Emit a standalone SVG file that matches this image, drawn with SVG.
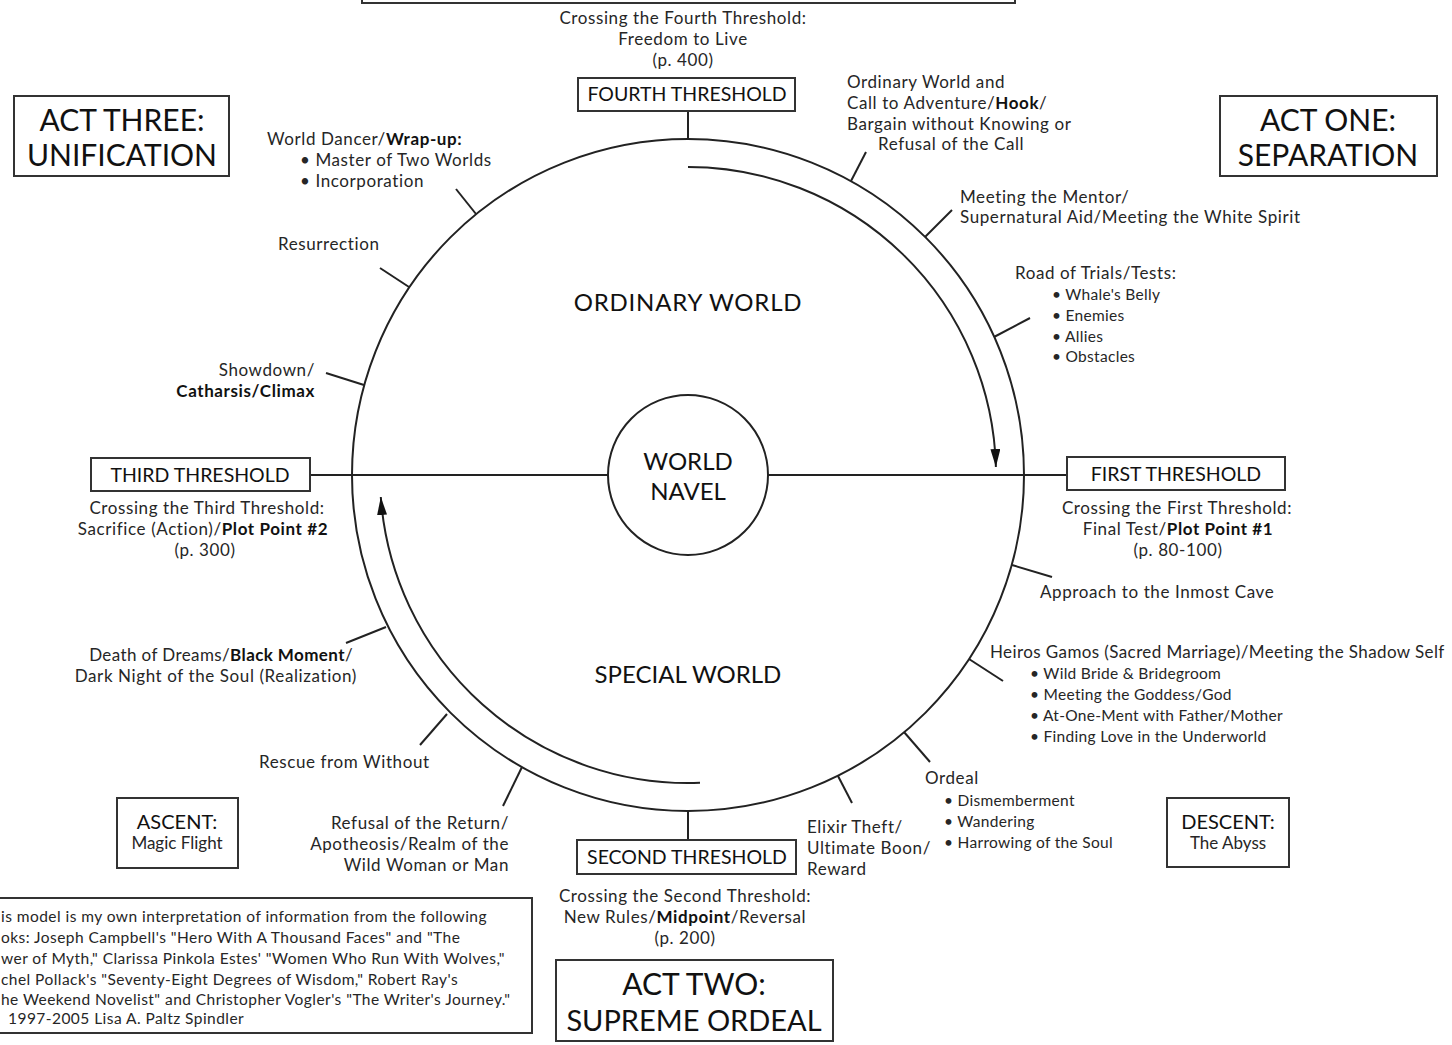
<svg xmlns="http://www.w3.org/2000/svg" width="1452" height="1045" viewBox="0 0 1452 1045">
<defs>
<style>
.t{font-family:Lato,"Liberation Sans",sans-serif;font-size:17px;letter-spacing:0.6px;fill:#262626}
.c{text-anchor:middle}
.r{text-anchor:end}
.b{font-weight:bold;fill:#111}
.s{font-size:15.5px;letter-spacing:0.3px}
.h{font-size:30px;letter-spacing:0;fill:#111}
.th{font-size:19.5px;letter-spacing:0;fill:#111}
.w{font-size:24px;letter-spacing:0;fill:#111}
.box{fill:#fff;stroke:#333;stroke-width:2}
.ln{fill:none;stroke:#222;stroke-width:2}
.fn{font-size:15.5px;letter-spacing:0.45px}
</style>
<marker id="arr" viewBox="0 0 18 10" refX="18" refY="5" markerWidth="18" markerHeight="10" markerUnits="userSpaceOnUse" orient="auto">
<path d="M0,0 L18,5 L0,10 Z" fill="#111"/>
</marker>
</defs>
<rect width="1452" height="1045" fill="#fff"/>

<g id="connectors">
<circle class="ln" cx="688" cy="475" r="336"/>
<line class="ln" x1="310" y1="475" x2="608" y2="475"/>
<line class="ln" x1="768" y1="475" x2="1067" y2="475"/>
<line class="ln" x1="688" y1="112" x2="688" y2="139"/>
<line class="ln" x1="688" y1="811" x2="688" y2="840"/>
<line class="ln" x1="851" y1="181" x2="866" y2="152"/>
<line class="ln" x1="925" y1="237" x2="952" y2="210"/>
<line class="ln" x1="994" y1="337" x2="1030" y2="318"/>
<line class="ln" x1="1012" y1="565" x2="1052" y2="577"/>
<line class="ln" x1="969" y1="659" x2="1003" y2="681"/>
<line class="ln" x1="904" y1="732" x2="930" y2="762"/>
<line class="ln" x1="838" y1="776" x2="852" y2="803"/>
<line class="ln" x1="522" y1="767" x2="503" y2="806"/>
<line class="ln" x1="447" y1="714" x2="420" y2="745"/>
<line class="ln" x1="386" y1="627" x2="346" y2="643"/>
<line class="ln" x1="364" y1="385" x2="326" y2="373"/>
<line class="ln" x1="409" y1="287" x2="380" y2="268"/>
<line class="ln" x1="476" y1="214" x2="456" y2="189"/>
<path class="ln" d="M688,167 A308,308 0 0 1 995.9,467" marker-end="url(#arr)"/>
<path class="ln" d="M700,782.8 A308,308 0 0 1 380.8,497" marker-end="url(#arr)"/>
</g>

<g id="top-box"><rect class="box" x="362" y="-20" width="653" height="23"/></g>

<g id="world-navel">
<circle class="ln" cx="688" cy="475" r="80" fill="#fff"/>
<text class="t w c" x="688" y="470">WORLD</text>
<text class="t w c" x="688" y="500">NAVEL</text>
</g>
<g id="ordinary-world"><text class="t w c" x="688" y="311" style="letter-spacing:0.8px">ORDINARY WORLD</text></g>
<g id="special-world"><text class="t w c" x="688" y="683">SPECIAL WORLD</text></g>

<g id="fourth-threshold">
<text class="t c" x="683" y="24">Crossing the Fourth Threshold:</text>
<text class="t c" x="683" y="45">Freedom to Live</text>
<text class="t c" x="683" y="66">(p. 400)</text>
<rect class="box" x="578" y="78" width="217" height="33"/>
<text class="t th c" x="687" y="101">FOURTH THRESHOLD</text>
</g>

<g id="first-threshold">
<rect class="box" x="1067" y="457" width="218" height="33"/>
<text class="t th c" x="1176" y="481">FIRST THRESHOLD</text>
<text class="t c" x="1177" y="514">Crossing the First Threshold:</text>
<text class="t c" x="1178" y="535">Final Test/<tspan class="b">Plot Point #1</tspan></text>
<text class="t c" x="1178" y="556">(p. 80-100)</text>
</g>

<g id="second-threshold">
<rect class="box" x="577" y="840" width="219" height="34"/>
<text class="t th c" x="687" y="864">SECOND THRESHOLD</text>
<text class="t c" x="685" y="902">Crossing the Second Threshold:</text>
<text class="t c" x="685" y="923">New Rules/<tspan class="b">Midpoint</tspan>/Reversal</text>
<text class="t c" x="685" y="944">(p. 200)</text>
</g>

<g id="third-threshold">
<rect class="box" x="91" y="458" width="219" height="33"/>
<text class="t th c" x="200" y="482">THIRD THRESHOLD</text>
<text class="t c" x="207" y="514">Crossing the Third Threshold:</text>
<text class="t c" x="203" y="535">Sacrifice (Action)/<tspan class="b">Plot Point #2</tspan></text>
<text class="t c" x="205" y="556">(p. 300)</text>
</g>

<g id="act-three">
<rect class="box" x="14" y="96" width="215" height="80"/>
<text class="t h c" x="122" y="131">ACT THREE:</text>
<text class="t h c" x="122" y="166">UNIFICATION</text>
</g>
<g id="act-one">
<rect class="box" x="1220" y="96" width="217" height="80"/>
<text class="t h c" x="1328" y="131">ACT ONE:</text>
<text class="t h c" x="1328" y="166">SEPARATION</text>
</g>
<g id="act-two">
<rect class="box" x="556" y="960" width="277" height="81"/>
<text class="t h c" x="694" y="995">ACT TWO:</text>
<text class="t h c" x="694" y="1031" style="font-size:29px">SUPREME ORDEAL</text>
</g>
<g id="ascent">
<rect class="box" x="117" y="798" width="121" height="70"/>
<text class="t c" x="177" y="829" style="font-size:20px;letter-spacing:0;fill:#111">ASCENT:</text>
<text class="t c" x="177" y="849" style="font-size:17px;letter-spacing:0">Magic Flight</text>
</g>
<g id="descent">
<rect class="box" x="1167" y="798" width="122" height="69"/>
<text class="t c" x="1228" y="829" style="font-size:20px;letter-spacing:0;fill:#111">DESCENT:</text>
<text class="t c" x="1228" y="849" style="font-size:17px;letter-spacing:0">The Abyss</text>
</g>

<g id="ordinary-world-call">
<text class="t" x="847" y="88">Ordinary World and</text>
<text class="t" x="847" y="109">Call to Adventure/<tspan class="b">Hook</tspan>/</text>
<text class="t" x="847" y="130">Bargain without Knowing or</text>
<text class="t" x="878" y="150">Refusal of the Call</text>
</g>
<g id="meeting-mentor">
<text class="t" x="960" y="203">Meeting the Mentor/</text>
<text class="t" x="960" y="223">Supernatural Aid/Meeting the White Spirit</text>
</g>
<g id="road-of-trials">
<text class="t" x="1015" y="279">Road of Trials/Tests:</text>
<text class="t s" x="1052" y="300">• Whale's Belly</text>
<text class="t s" x="1052" y="321">• Enemies</text>
<text class="t s" x="1052" y="342">• Allies</text>
<text class="t s" x="1052" y="362">• Obstacles</text>
</g>
<g id="approach">
<text class="t" x="1040" y="598">Approach to the Inmost Cave</text>
</g>
<g id="heiros-gamos">
<text class="t" x="990" y="658" style="letter-spacing:0.4px">Heiros Gamos (Sacred Marriage)/Meeting the Shadow Self</text>
<text class="t s" x="1030" y="679">• Wild Bride &amp; Bridegroom</text>
<text class="t s" x="1030" y="700">• Meeting the Goddess/God</text>
<text class="t s" x="1030" y="721">• At-One-Ment with Father/Mother</text>
<text class="t s" x="1030" y="742">• Finding Love in the Underworld</text>
</g>
<g id="ordeal">
<text class="t" x="925" y="784">Ordeal</text>
<text class="t s" x="944" y="806">• Dismemberment</text>
<text class="t s" x="944" y="827">• Wandering</text>
<text class="t s" x="944" y="848">• Harrowing of the Soul</text>
</g>
<g id="elixir-theft">
<text class="t" x="807" y="833">Elixir Theft/</text>
<text class="t" x="807" y="854">Ultimate Boon/</text>
<text class="t" x="807" y="875">Reward</text>
</g>
<g id="refusal-return">
<text class="t r" x="509" y="829">Refusal of the Return/</text>
<text class="t r" x="509" y="850">Apotheosis/Realm of the</text>
<text class="t r" x="509" y="871">Wild Woman or Man</text>
</g>
<g id="rescue">
<text class="t" x="259" y="768">Rescue from Without</text>
</g>
<g id="death-of-dreams">
<text class="t r" x="353" y="661" style="letter-spacing:0.4px">Death of Dreams/<tspan class="b">Black Moment</tspan>/</text>
<text class="t r" x="357" y="682">Dark Night of the Soul (Realization)</text>
</g>
<g id="showdown">
<text class="t r" x="315" y="376">Showdown/</text>
<text class="t r b" x="315" y="397">Catharsis/Climax</text>
</g>
<g id="resurrection">
<text class="t" x="278" y="250">Resurrection</text>
</g>
<g id="world-dancer">
<text class="t" x="267" y="145">World Dancer/<tspan class="b">Wrap-up:</tspan></text>
<text class="t" x="300" y="166">• Master of Two Worlds</text>
<text class="t" x="300" y="187">• Incorporation</text>
</g>

<g id="footnote">
<rect class="box" x="-5" y="898" width="537" height="135"/>
<text class="t fn" x="1" y="922">is model is my own interpretation of information from the following</text>
<text class="t fn" x="1" y="943">oks: Joseph Campbell's "Hero With A Thousand Faces" and "The</text>
<text class="t fn" x="1" y="964">wer of Myth," Clarissa Pinkola Estes' "Women Who Run With Wolves,"</text>
<text class="t fn" x="1" y="985">chel Pollack's "Seventy-Eight Degrees of Wisdom," Robert Ray's</text>
<text class="t fn" x="1" y="1005">he Weekend Novelist" and Christopher Vogler's "The Writer's Journey."</text>
<text class="t fn" x="8" y="1024">1997-2005 Lisa A. Paltz Spindler</text>
</g>
</svg>
